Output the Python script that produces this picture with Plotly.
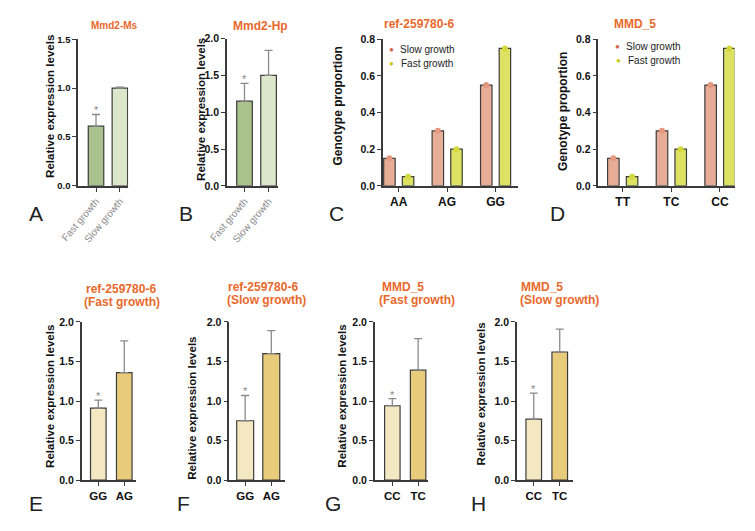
import plotly.graph_objects as go

# ---------------- data ----------------
growth_cats = ["Fast growth", "Slow growth"]
mmd2_ms_vals = [0.61, 1.00]
mmd2_ms_err = [0.12, 0.01]
mmd2_hp_vals = [1.15, 1.50]
mmd2_hp_err = [0.24, 0.34]

ref_geno = ["AA", "AG", "GG"]
mmd5_geno = ["TT", "TC", "CC"]
ref_slow = [0.15, 0.30, 0.55]
ref_fast = [0.05, 0.20, 0.75]
mmd5_slow = [0.15, 0.30, 0.55]
mmd5_fast = [0.05, 0.20, 0.75]

ref_expr_cats = ["GG", "AG"]
mmd5_expr_cats = ["CC", "TC"]
e_vals = [0.91, 1.36]
e_err = [0.10, 0.40]
f_vals = [0.75, 1.60]
f_err = [0.32, 0.29]
g_vals = [0.94, 1.39]
g_err = [0.09, 0.40]
h_vals = [0.77, 1.62]
h_err = [0.33, 0.29]

# ---------------- style / layout ----------------
W, H = 755, 531
FONT = "Arial"
ORANGE = "#e8692c"
AXC = "#3a3a3a"
OUTL = "#3c3c3c"
ERRC = "#8a8a8a"


def px(x):
    return x / W


def py(y):
    return 1 - y / H


fig = go.Figure()
annotations = []

panels = {
    1: dict(box=(60.7, 112, 34, 184), xr=[-0.747, 1.347], yr=[0, 1.5], dt=0.5),
    2: dict(box=(213.3, 266, 33.3, 184), xr=[-0.73, 1.405], yr=[0, 2.0], dt=0.5),
    3: dict(box=(373.3, 511.7, 34, 184), xr=[-0.326, 2.46], yr=[0, 0.8], dt=0.2),
    4: dict(box=(594.3, 734, 34, 184), xr=[-0.50, 2.30], yr=[0, 0.8], dt=0.2),
    5: dict(box=(64.3, 120.5, 323.3, 485), xr=[-0.64, 1.47], yr=[0, 2.0], dt=0.5),
    6: dict(box=(215.7, 272.7, 323.3, 485), xr=[-0.61, 1.52], yr=[0, 2.0], dt=0.5),
    7: dict(box=(365, 420, 323.3, 485), xr=[-0.68, 1.40], yr=[0, 2.0], dt=0.5),
    8: dict(box=(510.7, 568.3, 323.3, 485), xr=[-0.65, 1.51], yr=[0, 2.0], dt=0.5),
}

layout_axes = {}
for i, p in panels.items():
    l, r, t, b = p["box"]
    sx = "" if i == 1 else str(i)
    xa = dict(
        domain=[px(l), px(r)], range=p["xr"], anchor="y" + sx,
        showline=True, linecolor=AXC, linewidth=1.5, ticks="outside",
        ticklen=4, tickwidth=1.3, tickcolor=AXC, showgrid=False,
        zeroline=False, fixedrange=True,
        tickfont=dict(family=FONT, size=11.5, color="#111", weight="bold"),
    )
    ya = dict(
        domain=[py(b), py(t)], range=p["yr"], anchor="x" + sx,
        showline=True, linecolor=AXC, linewidth=1.5, ticks="outside",
        ticklen=4, tickwidth=1.3, tickcolor=AXC, showgrid=False,
        zeroline=False, dtick=p["dt"], tick0=0, tickformat=".1f",
        tickfont=dict(family=FONT, size=10.5 if i != 1 else 9.5, color="#111", weight="bold"),
        fixedrange=True,
    )
    layout_axes["xaxis" + sx] = xa
    layout_axes["yaxis" + sx] = ya


def two_bar_panel(i, cats, vals, errs, colors, width, rotated=False):
    sx = "" if i == 1 else str(i)
    xs = list(range(len(cats)))
    fig.add_trace(go.Bar(
        x=xs, y=vals, width=width, xaxis="x" + sx, yaxis="y" + sx,
        marker=dict(color=colors, line=dict(color=OUTL, width=1.2)),
        error_y=dict(type="data", array=errs, arrayminus=[0] * len(errs),
                     symmetric=False, color=ERRC, thickness=1.3, width=4),
        showlegend=False, hoverinfo="skip",
    ))
    xa = layout_axes["xaxis" + sx]
    xa["tickvals"] = xs
    xa["ticktext"] = cats
    if rotated:
        xa["tickangle"] = -50
        xa["tickfont"] = dict(family=FONT, size=10, color="#8c8c8c")
    annotations.append(dict(
        xref="x" + sx, yref="y" + sx, x=xs[0], y=vals[0] + errs[0],
        text="*", showarrow=False, yanchor="bottom", yshift=-4,
        font=dict(family=FONT, size=11, color="#888"),
    ))


two_bar_panel(1, growth_cats, mmd2_ms_vals, mmd2_ms_err, ["#a9c28d", "#dce6ca"], 0.65, rotated=True)
two_bar_panel(2, growth_cats, mmd2_hp_vals, mmd2_hp_err, ["#a9c28d", "#dce6ca"], 0.65, rotated=True)
two_bar_panel(5, ref_expr_cats, e_vals, e_err, ["#f3e8c2", "#e8cb7b"], 0.6)
two_bar_panel(6, ref_expr_cats, f_vals, f_err, ["#f3e8c2", "#e8cb7b"], 0.65)
two_bar_panel(7, mmd5_expr_cats, g_vals, g_err, ["#f3e8c2", "#e8cb7b"], 0.6)
two_bar_panel(8, mmd5_expr_cats, h_vals, h_err, ["#f3e8c2", "#e8cb7b"], 0.6)

SLOW_BAR, FAST_BAR = "#e8ad96", "#dde262"
SLOW_DOT, FAST_DOT = "#e6977f", "#d3d93a"
BW = 0.237
SLOW_OFF, FAST_OFF = -0.31, 0.075


def geno_panel(i, cats, slow, fast):
    sx = str(i)
    xs = list(range(len(cats)))
    for vals, col, dot, off in ((slow, SLOW_BAR, SLOW_DOT, SLOW_OFF), (fast, FAST_BAR, FAST_DOT, FAST_OFF)):
        fig.add_trace(go.Bar(
            x=xs, y=vals, width=BW, offset=off, xaxis="x" + sx, yaxis="y" + sx,
            marker=dict(color=col, line=dict(color=OUTL, width=1.2)),
            showlegend=False, hoverinfo="skip",
        ))
        fig.add_trace(go.Scatter(
            x=[x + off + BW / 2 for x in xs], y=vals, mode="markers",
            xaxis="x" + sx, yaxis="y" + sx,
            marker=dict(color=dot, size=6), showlegend=False, hoverinfo="skip",
            cliponaxis=False,
        ))
    xa = layout_axes["xaxis" + sx]
    xa["tickvals"] = xs
    xa["ticktext"] = cats
    xa["tickfont"] = dict(family=FONT, size=12, color="#111", weight="bold")


geno_panel(3, ref_geno, ref_slow, ref_fast)
geno_panel(4, mmd5_geno, mmd5_slow, mmd5_fast)


def ann(x, y, text, size, color="#111", bold=False, angle=0, xanchor="center"):
    annotations.append(dict(
        xref="paper", yref="paper", x=px(x), y=py(y), text=text,
        showarrow=False, xanchor=xanchor, yanchor="middle", textangle=angle,
        font=dict(family=FONT, size=size, color=color, weight="bold" if bold else "normal"),
    ))


ann(98, 20, "Mmd2-Ms", 10, ORANGE, True)
ann(248, 20, "Mmd2-Hp", 12, ORANGE, True)
ann(410.7, 18.3, "ref-259780-6", 12, ORANGE, True)
ann(631.7, 18, "MMD_5", 12, ORANGE, True)
ann(104.5, 289.3, "ref-259780-6", 12, ORANGE, True)
ann(105.5, 302.7, "(Fast growth)", 12, ORANGE, True)
ann(250.5, 287, "ref-259780-6", 12, ORANGE, True)
ann(254, 300.5, "(Slow growth)", 12, ORANGE, True)
ann(370, 287, "MMD_5", 12, ORANGE, True, xanchor="left")
ann(367, 300.7, "(Fast growth)", 12, ORANGE, True, xanchor="left")
ann(513, 287, "MMD_5", 12, ORANGE, True, xanchor="left")
ann(511.5, 300.7, "(Slow growth)", 12, ORANGE, True, xanchor="left")

REL = "Relative expression levels"
GEN = "Genotype proportion"
ann(31, 103, REL, 11.5, "#111", True, -90)
ann(186, 106, REL, 11.5, "#111", True, -90)
ann(327, 102, GEN, 12, "#111", True, -90)
ann(558, 107.5, GEN, 12, "#111", True, -90)
ann(31.7, 399, REL, 11.5, "#111", True, -90)
ann(178, 411.5, REL, 11.5, "#111", True, -90)
ann(331, 399, REL, 11.5, "#111", True, -90)
ann(473, 397.5, REL, 11.5, "#111", True, -90)

for dx, tx, y1, y2 in ((381.7, 388.3, 44, 58.7), (614, 621, 41.7, 56)):
    ann(dx, y1, "●", 8, "#d5694f")
    ann(dx + 0.8, y2, "●", 8, "#c6ca1c")
    ann(tx, y1, "Slow growth", 10, "#222", xanchor="left")
    ann(tx + 1.5, y2, "Fast growth", 10, "#222", xanchor="left")

for letter, x, y in (("A", 17.5, 212.5), ("B", 171, 212), ("C", 326, 212), ("D", 552, 212.5),
                     ("E", 17.5, 508.7), ("F", 169, 508.5), ("G", 322, 508.5), ("H", 471, 508.5)):
    ann(x, y, letter, 21, "#222")

fig.update_layout(
    width=W, height=H, margin=dict(l=0, r=0, t=0, b=0),
    paper_bgcolor="white", plot_bgcolor="white",
    barmode="overlay", showlegend=False,
    annotations=annotations,
    **layout_axes,
)

fig.write_html("out.html")
